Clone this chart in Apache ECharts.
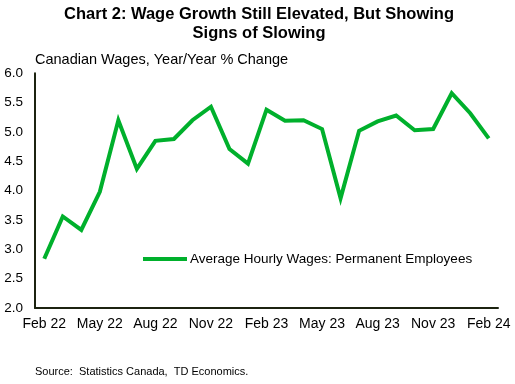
<!DOCTYPE html>
<html><head><meta charset="utf-8">
<script src="https://cdn.jsdelivr.net/npm/echarts@6/dist/echarts.min.js"></script>
<style>html,body{margin:0;padding:0;background:#fff}#c{width:515px;height:384px}</style>
</head><body><div id="c"></div>
<script>
const categories = ['Feb 22','Mar 22','Apr 22','May 22','Jun 22','Jul 22','Aug 22','Sep 22','Oct 22','Nov 22','Dec 22','Jan 23',
  'Feb 23','Mar 23','Apr 23','May 23','Jun 23','Jul 23','Aug 23','Sep 23','Oct 23','Nov 23','Dec 23','Jan 24','Feb 24'];
const wages = [2.84,3.56,3.33,3.98,5.20,4.37,4.85,4.88,5.20,5.43,4.71,4.46,
  5.38,5.19,5.20,5.05,3.87,5.02,5.18,5.28,5.03,5.05,5.66,5.32,4.89];
const seriesName = 'Average Hourly Wages: Permanent Employees';
const yTicks = [2.0,2.5,3.0,3.5,4.0,4.5,5.0,5.5,6.0];

const chart = echarts.init(document.getElementById('c'), null, {renderer:'canvas'});
const font = 'Arial, "Liberation Sans", sans-serif';
chart.setOption({
  animation:false,
  textStyle:{fontFamily:font},
  title:[
    {text:'Chart 2: Wage Growth Still Elevated, But Showing\nSigns of Slowing', left:259, textAlign:'center', top:5, padding:0,
     textStyle:{fontFamily:font,fontSize:16.5,fontWeight:'bold',color:'#000',lineHeight:19}},
    {text:'Canadian Wages, Year/Year % Change', left:35, top:52, padding:0,
     textStyle:{fontFamily:font,fontSize:14.5,fontWeight:'normal',color:'#000'}},
    {text:'Source:  Statistics Canada,  TD Economics.', left:35, top:366, padding:0,
     textStyle:{fontFamily:font,fontSize:11,fontWeight:'normal',color:'#000'}}
  ],
  legend:{show:true, left:143, top:252, padding:0, itemWidth:44, itemHeight:4, itemGap:0,
    icon:'rect',
    textStyle:{fontFamily:font,fontSize:13.5,color:'#000',padding:[0,0,0,-2]},
    data:[{name:seriesName, icon:'rect'}]},
  grid:{left:35, right:17, top:73.3, bottom:76, containLabel:false},
  xAxis:{type:'category', data:categories, boundaryGap:true,
    axisLine:{lineStyle:{color:'#1c2310',width:2}},
    axisTick:{show:false},
    axisLabel:{interval:2, color:'#000', fontSize:14, fontFamily:font, margin:9},
    splitLine:{show:false}},
  yAxis:{type:'value', min:2, max:6, interval:0.5,
    axisLine:{show:true,lineStyle:{color:'#1c2310',width:2}},
    axisTick:{show:false},
    axisLabel:{color:'#000', fontSize:13.5, fontFamily:font, margin:12,
      formatter:v=>v.toFixed(1)},
    splitLine:{show:false}},
  series:[{name:seriesName, type:'line', data:wages, symbol:'none',
    lineStyle:{color:'#00b02c', width:4, join:'miter'}, itemStyle:{color:'#00b02c'}}]
});
</script></body></html>
